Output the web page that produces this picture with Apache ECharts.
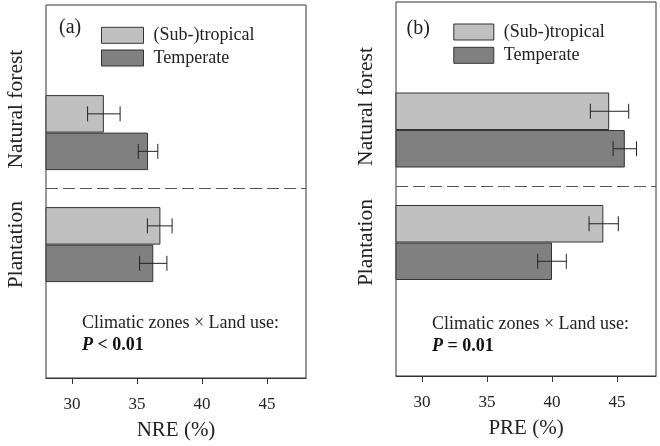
<!DOCTYPE html>
<html>
<head>
<meta charset="utf-8">
<script src="https://cdn.jsdelivr.net/npm/echarts@6/dist/echarts.min.js"></script>
<style>html,body{margin:0;padding:0;background:#fff;}#c{width:660px;height:446px;}</style>
</head>
<body>
<div id="c"></div>
<script>
// ---- data ----
const categories = ['Natural forest', 'Plantation'];
const seriesNames = ['(Sub-)tropical', 'Temperate'];
const tickValues = [30, 35, 40, 45];
const xMin = 28, xMax = 48;

const nreSub = [32.45, 36.8];
const nreSubLow = [31.2, 35.8];
const nreSubHigh = [33.7, 37.7];
const nreTemp = [35.85, 36.25];
const nreTempLow = [35.1, 35.2];
const nreTempHigh = [36.6, 37.3];

const preSub = [44.4, 43.95];
const preSubLow = [42.95, 42.85];
const preSubHigh = [45.9, 45.1];
const preTemp = [45.6, 40.0];
const preTempLow = [44.7, 38.9];
const preTempHigh = [46.5, 41.1];

const panelLabels = ['(a)', '(b)'];
const axisNames = ['NRE (%)', 'PRE (%)'];
const annotLine1 = 'Climatic zones \u00d7 Land use:';
const annotP = ['< 0.01', '= 0.01'];

// ---- styles ----
const FONT = 'Liberation Serif';
const LIGHT = '#c0c0c0', DARK = '#808080', EDGE = '#333';
const BAR_W = 37.5;

function errData(low, high, sign) {
  return low.map((l, i) => [l, i, high[i], sign]);
}
function renderErr(params, api) {
  const cat = api.value(1);
  const a = api.coord([api.value(0), cat]);
  const b = api.coord([api.value(2), cat]);
  const y = a[1] + api.value(3) * BAR_W / 2;
  const h = 7.5;
  const st = {stroke: '#222', lineWidth: 1};
  return {type: 'group', children: [
    {type: 'line', shape: {x1: a[0], y1: y, x2: b[0], y2: y}, style: st},
    {type: 'line', shape: {x1: a[0], y1: y - h, x2: a[0], y2: y + h}, style: st},
    {type: 'line', shape: {x1: b[0], y1: y - h, x2: b[0], y2: y + h}, style: st}
  ]};
}

const panels = [
  {left: 46, top: 5, barTop: 76.6, barH: 224, sub: nreSub, temp: nreTemp,
   sl: nreSubLow, sh: nreSubHigh, tl: nreTempLow, th: nreTempHigh},
  {left: 396, top: 2, barTop: 73.75, barH: 225, sub: preSub, temp: preTemp,
   sl: preSubLow, sh: preSubHigh, tl: preTempLow, th: preTempHigh}
];

const grid = [], xAxis = [], yAxis = [], series = [];
panels.forEach((p, k) => {
  const gFrame = grid.length;
  grid.push({left: p.left, top: p.top, width: 260, height: 374, show: true,
    borderColor: EDGE, borderWidth: 1, backgroundColor: 'transparent'});
  xAxis.push({gridIndex: gFrame, type: 'value', min: xMin, max: xMax,
    axisLine: {show: true, lineStyle: {color: EDGE, width: 1}},
    axisTick: {show: true, inside: false, length: 6, customValues: tickValues, lineStyle: {color: EDGE}},
    axisLabel: {show: true, customValues: tickValues, margin: 18, fontFamily: FONT, fontSize: 17, color: '#222'},
    splitLine: {show: false},
    name: axisNames[k], nameLocation: 'middle', nameGap: 42,
    nameTextStyle: {fontFamily: FONT, fontSize: 21, color: '#222'}});
  yAxis.push({gridIndex: gFrame, type: 'value', min: 0, max: 1, show: false});

  const gBar = grid.length;
  grid.push({left: p.left, top: p.barTop, width: 260, height: p.barH, show: false});
  xAxis.push({gridIndex: gBar, type: 'value', min: xMin, max: xMax, show: false});
  yAxis.push({gridIndex: gBar, type: 'category', inverse: true,
    data: [{value: categories[0], textStyle: {padding: [0, 0, 0, 47]}}, categories[1]],
    axisLine: {show: false}, axisTick: {show: false, interval: 0},
    axisLabel: {interval: 0, rotate: 90, margin: 19, fontFamily: FONT, fontSize: 21.5, color: '#222', hideOverlap: false},
    splitLine: {show: true, interval: 0, showMinLine: false, showMaxLine: false,
      lineStyle: {type: [12, 5], color: '#555', width: 1}}});
  const xi = xAxis.length - 1, yi = yAxis.length - 1;
  series.push({type: 'bar', name: seriesNames[0], xAxisIndex: xi, yAxisIndex: yi,
    data: p.sub, barWidth: BAR_W, barGap: '0%', clip: true,
    itemStyle: {color: LIGHT, borderColor: EDGE, borderWidth: 1}});
  series.push({type: 'bar', name: seriesNames[1], xAxisIndex: xi, yAxisIndex: yi,
    data: p.temp, barWidth: BAR_W, barGap: '0%', clip: true,
    itemStyle: {color: DARK, borderColor: EDGE, borderWidth: 1}});
  series.push({type: 'custom', xAxisIndex: xi, yAxisIndex: yi, renderItem: renderErr,
    encode: {x: [0, 2], y: 1}, data: errData(p.sl, p.sh, -1), z: 5, silent: true});
  series.push({type: 'custom', xAxisIndex: xi, yAxisIndex: yi, renderItem: renderErr,
    encode: {x: [0, 2], y: 1}, data: errData(p.tl, p.th, 1), z: 5, silent: true});
});

const legendBase = {orient: 'vertical', padding: 0, itemHeight: 16, icon: 'rect',
  data: seriesNames, selectedMode: false,
  itemStyle: {borderColor: EDGE, borderWidth: 1},
  textStyle: {fontFamily: FONT, fontSize: 18, color: '#222', padding: [0, 0, 0, 5]}};

const option = {
  animation: false,
  backgroundColor: '#fff',
  textStyle: {fontFamily: FONT},
  grid, xAxis, yAxis, series,
  legend: [
    Object.assign({}, legendBase, {left: 101, top: 26.3, itemWidth: 42, itemGap: 4.7}),
    Object.assign({}, legendBase, {left: 453.3, top: 23, itemWidth: 40, itemGap: 5.3})
  ],
  graphic: [
    {type: 'text', x: 59, y: 28, style: {text: panelLabels[0], font: '20px ' + FONT, fill: '#222', textVerticalAlign: 'middle'}},
    {type: 'text', x: 406.5, y: 29, style: {text: panelLabels[1], font: '20px ' + FONT, fill: '#222', textVerticalAlign: 'middle'}},
    {type: 'text', x: 82, y: 323, style: {text: annotLine1, font: '18px ' + FONT, fill: '#222', textVerticalAlign: 'middle'}},
    {type: 'text', x: 432, y: 324, style: {text: annotLine1, font: '18px ' + FONT, fill: '#222', textVerticalAlign: 'middle'}},
    {type: 'text', x: 82, y: 345, style: {text: '{p|P}{b| ' + annotP[0] + '}', textVerticalAlign: 'middle',
      rich: {p: {fontFamily: FONT, fontSize: 18, fontWeight: 'bold', fontStyle: 'italic', fill: '#111'},
             b: {fontFamily: FONT, fontSize: 18, fontWeight: 'bold', fill: '#111'}}}},
    {type: 'text', x: 432, y: 346, style: {text: '{p|P}{b| ' + annotP[1] + '}', textVerticalAlign: 'middle',
      rich: {p: {fontFamily: FONT, fontSize: 18, fontWeight: 'bold', fontStyle: 'italic', fill: '#111'},
             b: {fontFamily: FONT, fontSize: 18, fontWeight: 'bold', fill: '#111'}}}}
  ]
};

const chart = echarts.init(document.getElementById('c'), null, {renderer: 'canvas'});
chart.setOption(option);
</script>
</body>
</html>
